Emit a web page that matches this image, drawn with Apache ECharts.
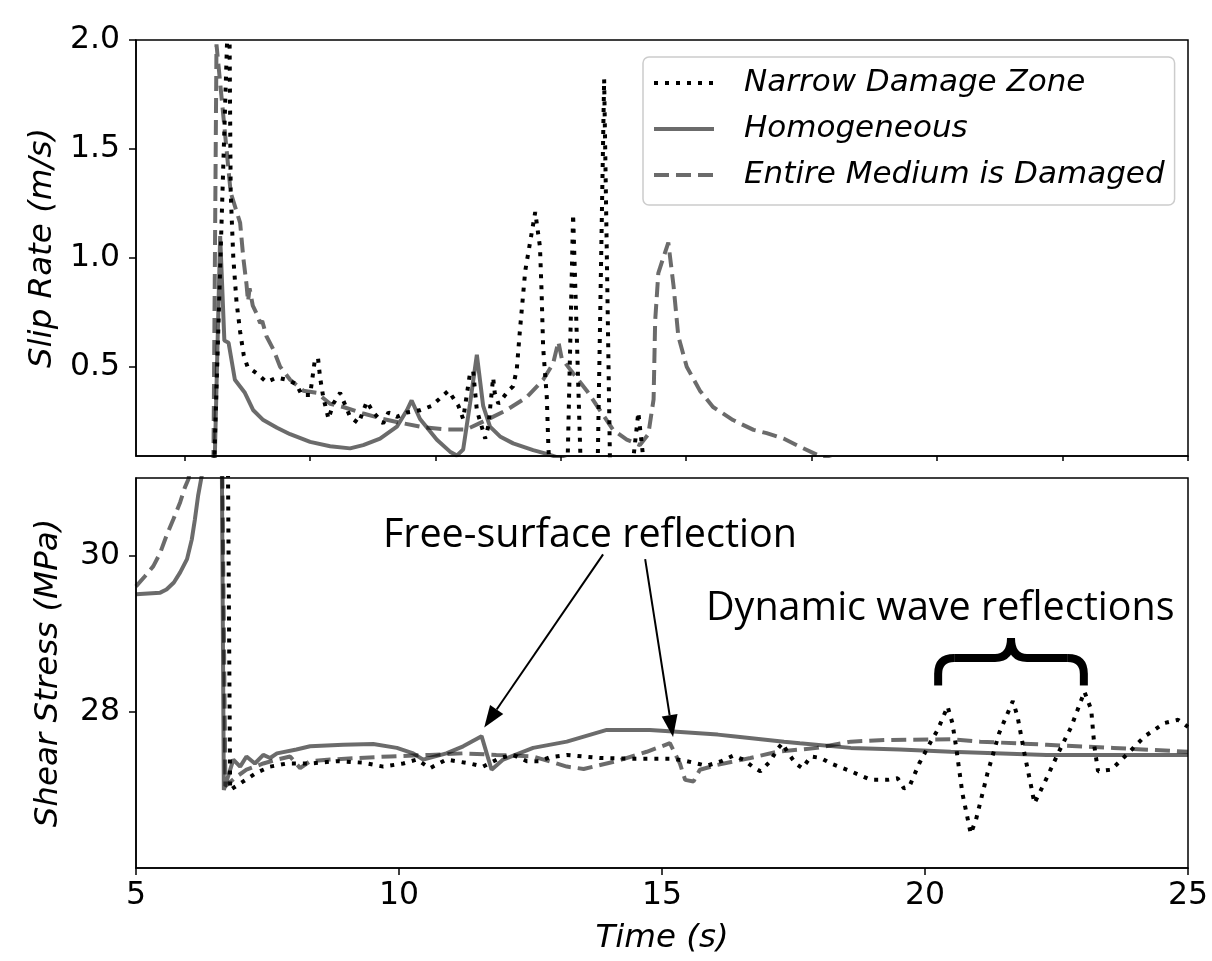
<!DOCTYPE html>
<html>
<head>
<meta charset="utf-8">
<script src="https://cdn.jsdelivr.net/npm/echarts@6/dist/echarts.min.js"></script>
<style>
  html, body { margin: 0; padding: 0; background: #ffffff; }
  #chart { width: 1212px; height: 961px; }
</style>
</head>
<body>
<div id="chart"></div>
<script>
// ---- Slip rate (m/s) versus time (s) ----
const slipNarrow = [
  [5.0,0],[6.48,0],[6.77,2.3],[6.80,1.30],[6.85,1.0],[6.91,0.80],[6.98,0.66],[7.05,0.55],[7.12,0.50],
  [7.29,0.47],[7.48,0.43],[7.68,0.45],[7.87,0.44],[8.05,0.42],[8.15,0.37],[8.31,0.37],[8.40,0.53],
  [8.46,0.54],[8.50,0.45],[8.56,0.36],[8.66,0.26],[8.75,0.33],[8.88,0.38],[9.07,0.27],[9.23,0.24],
  [9.39,0.34],[9.51,0.29],[9.70,0.24],[9.80,0.29],[9.96,0.27],[10.15,0.29],[10.40,0.30],[10.62,0.32],
  [10.94,0.39],[11.13,0.32],[11.22,0.26],[11.35,0.47],[11.41,0.48],[11.48,0.30],[11.64,0.17],
  [11.70,0.23],[11.79,0.45],[11.82,0.38],[11.89,0.33],[12.08,0.39],[12.17,0.41],[12.24,0.49],
  [12.30,0.67],[12.40,0.94],[12.59,1.21],[12.68,1.05],[12.71,0.85],[12.74,0.59],[12.81,0.36],
  [12.84,0.13],[12.87,0.0],[13.20,0.0],[13.31,1.20],[13.46,0.0],[13.774,0.0],[13.90,1.82],
  [14.015,0.0],[14.42,0.0],[14.55,0.29],[14.68,0.0],[25.0,0]
];
const slipHomog = [
  [5.0,0],[6.49,0],[6.60,1.10],[6.68,0.62],[6.76,0.61],[6.88,0.44],[7.07,0.38],[7.23,0.30],
  [7.42,0.255],[7.68,0.22],[7.93,0.19],[8.31,0.155],[8.69,0.135],[9.07,0.125],[9.32,0.14],
  [9.64,0.17],[9.96,0.225],[10.15,0.30],[10.24,0.345],[10.40,0.26],[10.72,0.165],[10.97,0.11],
  [11.10,0.092],[11.22,0.12],[11.35,0.33],[11.48,0.555],[11.60,0.32],[11.73,0.225],[11.92,0.18],
  [12.17,0.148],[12.55,0.117],[12.81,0.10],[13.0,0.085],[13.5,0.05],[25.0,0]
];
const slipDamaged = [
  [5.0,0],[6.47,0],[6.53,1.98],[6.80,1.30],[6.98,1.16],[7.04,1.0],[7.10,0.88],[7.13,0.80],
  [7.16,0.86],[7.22,0.78],[7.29,0.745],[7.36,0.70],[7.40,0.71],[7.48,0.64],[7.61,0.58],
  [7.74,0.50],[7.93,0.44],[8.18,0.39],[8.44,0.38],[8.69,0.33],[8.94,0.315],[9.32,0.285],
  [9.70,0.26],[10.08,0.24],[10.46,0.222],[10.90,0.212],[11.28,0.212],[11.66,0.255],[12.04,0.30],
  [12.43,0.36],[12.74,0.44],[12.93,0.515],[13.03,0.615],[13.10,0.53],[13.15,0.52],[13.31,0.47],
  [13.57,0.39],[13.82,0.30],[14.07,0.21],[14.33,0.165],[14.58,0.14],[14.74,0.19],[14.84,0.35],
  [14.87,0.71],[14.93,0.93],[15.12,1.07],[15.22,0.87],[15.31,0.64],[15.47,0.50],[15.72,0.39],
  [15.97,0.315],[16.35,0.255],[16.74,0.21],[16.99,0.195],[17.31,0.17],[17.62,0.133],[18.0,0.09],
  [18.5,0.05],[25.0,0]
];

// ---- Shear stress (MPa) versus time (s) ----
const stressNarrow = [
  [5.0,32],[6.74,32],[6.79,27.0],[6.82,26.98],[7.04,27.11],[7.29,27.22],[7.55,27.30],[7.87,27.34],
  [8.31,27.34],[8.82,27.37],[9.32,27.35],[9.70,27.30],[10.08,27.34],[10.34,27.39],[10.59,27.28],
  [10.90,27.39],[11.35,27.34],[11.60,27.30],[11.92,27.41],[12.17,27.45],[12.43,27.37],[12.68,27.37],
  [12.87,27.42],[13.19,27.45],[13.82,27.41],[14.46,27.40],[15.21,27.40],[15.47,27.37],[15.85,27.31],
  [16.13,27.37],[16.35,27.44],[16.55,27.39],[16.74,27.29],[16.87,27.24],[17.06,27.37],[17.19,27.52],
  [17.29,27.60],[17.38,27.49],[17.54,27.34],[17.67,27.28],[17.83,27.43],[18.02,27.41],[18.21,27.34],
  [18.59,27.24],[18.97,27.13],[19.29,27.13],[19.48,27.15],[19.60,27.02],[19.70,27.04],[19.89,27.34],
  [20.11,27.62],[20.24,27.77],[20.43,28.07],[20.52,27.86],[20.59,27.56],[20.71,26.96],[20.87,26.44],
  [20.97,26.62],[21.19,27.22],[21.41,27.73],[21.67,28.14],[21.76,27.94],[21.89,27.47],[22.02,27.04],
  [22.08,26.83],[22.27,27.09],[22.53,27.47],[22.78,27.81],[23.03,28.26],[23.16,28.03],[23.22,27.56],
  [23.29,27.24],[23.54,27.26],[23.83,27.45],[24.18,27.69],[24.56,27.86],[24.81,27.90],[25.0,27.81]
];
const stressHomog = [
  [5.0,29.51],[5.46,29.53],[5.58,29.57],[5.72,29.66],[5.84,29.79],[5.97,29.96],[6.06,30.21],
  [6.12,30.47],[6.18,30.77],[6.25,31.03],[6.35,32.5],
  [6.62,32.5],[6.67,27.0],[6.69,27.0],[6.85,27.39],[6.98,27.30],[7.10,27.43],[7.26,27.34],
  [7.42,27.45],[7.55,27.41],[7.68,27.47],[8.05,27.52],[8.31,27.56],[8.94,27.58],[9.51,27.59],
  [9.96,27.54],[10.27,27.47],[10.46,27.39],[10.90,27.47],[11.22,27.56],[11.57,27.69],[11.76,27.26],
  [11.98,27.39],[12.55,27.54],[13.19,27.62],[13.95,27.77],[14.77,27.77],[15.21,27.75],[16.06,27.71],
  [16.35,27.69],[17.32,27.62],[17.62,27.60],[18.59,27.54],[19.52,27.52],[20.49,27.49],[22.31,27.45],
  [25.0,27.45]
];
const stressDamaged = [
  [5.0,29.61],[5.17,29.74],[5.33,29.87],[5.46,30.04],[5.58,30.26],[5.71,30.47],[5.84,30.69],
  [5.93,30.88],[6.0,30.99],[6.1,31.6],[6.2,32.5],[6.62,32.5],
  [6.70,27.05],[6.91,27.17],[7.10,27.26],[7.42,27.34],[7.68,27.39],[7.93,27.43],[8.12,27.28],
  [8.31,27.37],[8.69,27.39],[9.20,27.41],[9.83,27.43],[10.59,27.45],[11.22,27.47],[11.85,27.45],
  [12.55,27.43],[13.19,27.30],[13.51,27.27],[14.14,27.37],[14.71,27.49],[15.15,27.60],[15.34,27.34],
  [15.44,27.13],[15.60,27.11],[15.72,27.26],[16.04,27.32],[16.68,27.41],[17.19,27.49],[17.95,27.54],
  [18.59,27.62],[19.23,27.64],[20.49,27.65],[21.05,27.62],[22.31,27.58],[23.58,27.54],[25.0,27.49]
];

// ---- Axis ticks ----
const timeTicks = [5, 10, 15, 20, 25];
const slipTicks = [0.5, 1.0, 1.5, 2.0];
const stressTicks = [28, 30];
const upperTimeTicks = [5.93, 8.31, 10.69, 13.08, 15.46, 17.84, 20.22, 22.61, 25.0];

const seriesNames = ['Narrow Damage Zone', 'Homogeneous', 'Entire Medium is Damaged'];

// ---- Annotations (data coordinates of the lower panel) ----
const noteFree = { text: 'Free-surface reflection', at: [13.63, 30.26] };
const noteWaves = { text: 'Dynamic wave reflections', at: [20.29, 29.32] };
const arrows = [
  { from: [13.88, 30.02], to: [11.62, 27.80] },
  { from: [14.68, 29.96], to: [15.21, 27.68] }
];
const brace = { left: 20.25, right: 23.02, tip: 28.95, base: 28.34 };

const FONT = 'DejaVu Sans';
const GRAY = 'rgba(0,0,0,0.58)';

const styles = [
  { color: '#000000', width: 4, type: [4, 7], cap: 'butt' },
  { color: GRAY, width: 4, type: 'solid', cap: 'butt' },
  { color: GRAY, width: 4, type: [15, 7], cap: 'butt' }
];

function makeSeries(idx, data, axis) {
  return {
    name: seriesNames[idx],
    type: 'line',
    xAxisIndex: axis,
    yAxisIndex: axis,
    data: data,
    symbol: 'none',
    showSymbol: false,
    clip: true,
    lineStyle: styles[idx],
    itemStyle: { color: styles[idx].color },
    emphasis: { disabled: true },
    z: 2 + idx
  };
}

const axisLineStyle = { color: '#000', width: 1.5 };
const tickLabel = { fontFamily: FONT, fontSize: 31.5, color: '#000' };
const axisName = { fontFamily: FONT, fontSize: 32.5, fontStyle: 'italic', color: '#000' };

const option = {
  animation: false,
  backgroundColor: '#ffffff',
  grid: [
    { left: 136, top: 40, width: 1052, height: 416, show: true, borderColor: '#000', borderWidth: 1.5 },
    { left: 136, top: 478, width: 1052, height: 390, show: true, borderColor: '#000', borderWidth: 1.5 }
  ],
  xAxis: [
    {
      gridIndex: 0, type: 'value', min: 5, max: 25,
      axisLine: { show: true, lineStyle: axisLineStyle },
      axisTick: { show: true, length: 5, customValues: upperTimeTicks, lineStyle: axisLineStyle },
      axisLabel: { show: false },
      splitLine: { show: false }
    },
    {
      gridIndex: 1, type: 'value', min: 5, max: 25,
      axisLine: { show: true, lineStyle: axisLineStyle },
      axisTick: { show: true, length: 7, customValues: timeTicks, lineStyle: axisLineStyle },
      axisLabel: Object.assign({ customValues: timeTicks, margin: 12 }, tickLabel),
      splitLine: { show: false },
      name: 'Time (s)', nameLocation: 'middle', nameGap: 54, nameTextStyle: axisName
    }
  ],
  yAxis: [
    {
      gridIndex: 0, type: 'value', min: 0.09, max: 2.0,
      axisLine: { show: true, lineStyle: axisLineStyle },
      axisTick: { show: true, length: 7, customValues: slipTicks, lineStyle: axisLineStyle },
      axisLabel: Object.assign({ customValues: slipTicks, margin: 16, formatter: v => v.toFixed(1) }, tickLabel),
      splitLine: { show: false },
      name: 'Slip Rate (m/s)', nameLocation: 'middle', nameGap: 71, nameRotate: 90, nameTextStyle: axisName
    },
    {
      gridIndex: 1, type: 'value', min: 26, max: 31,
      axisLine: { show: true, lineStyle: axisLineStyle },
      axisTick: { show: true, length: 7, customValues: stressTicks, lineStyle: axisLineStyle },
      axisLabel: Object.assign({ customValues: stressTicks, margin: 16 }, tickLabel),
      splitLine: { show: false },
      name: 'Shear Stress (MPa)', nameLocation: 'middle', nameGap: 71, nameRotate: 90, nameTextStyle: axisName
    }
  ],
  legend: {
    data: seriesNames,
    orient: 'vertical',
    left: 643, top: 57,
    itemWidth: 60, itemHeight: 14, itemGap: 10,
    padding: [8, 10, 12, 9],
    selectedMode: false,
    backgroundColor: 'rgba(255,255,255,0.85)',
    borderColor: '#cccccc', borderWidth: 1.5, borderRadius: 6,
    itemStyle: { opacity: 0 },
    lineStyle: { width: 4 },
    textStyle: { fontFamily: FONT, fontStyle: 'italic', fontSize: 31, color: '#000', lineHeight: 36, padding: [0, 0, 0, 25] }
  },
  series: [
    makeSeries(0, slipNarrow, 0),
    makeSeries(1, slipHomog, 0),
    makeSeries(2, slipDamaged, 0),
    makeSeries(0, stressNarrow, 1),
    makeSeries(1, stressHomog, 1),
    makeSeries(2, stressDamaged, 1)
  ]
};

const chart = echarts.init(document.getElementById('chart'), null, { renderer: 'canvas' });
chart.setOption(option);

// Annotation layer: texts, arrows and the brace, placed through the lower panel's axes.
function px(pt) { return chart.convertToPixel({ xAxisIndex: 1, yAxisIndex: 1 }, pt); }

const annoFont = { fontFamily: 'Open Sans', fontSize: 39.5, fill: '#000' };
const graphics = [];
[noteFree, noteWaves].forEach(n => {
  const p = px(n.at);
  graphics.push({
    type: 'text', x: p[0], y: p[1], z: 20,
    style: Object.assign({ text: n.text, align: 'center', verticalAlign: 'middle' }, annoFont)
  });
});

arrows.forEach(a => {
  const s = px(a.from), e = px(a.to);
  const dx = e[0] - s[0], dy = e[1] - s[1];
  const len = Math.sqrt(dx * dx + dy * dy);
  const ux = dx / len, uy = dy / len;
  const headLen = 22, headHalf = 8;
  const bx = e[0] - ux * headLen, by = e[1] - uy * headLen;
  graphics.push({
    type: 'line', z: 20,
    shape: { x1: s[0], y1: s[1], x2: bx, y2: by },
    style: { stroke: '#000', lineWidth: 2 }
  });
  graphics.push({
    type: 'polygon', z: 20,
    shape: { points: [[e[0], e[1]], [bx - uy * headHalf, by + ux * headHalf], [bx + uy * headHalf, by - ux * headHalf]] },
    style: { fill: '#000' }
  });
});

// Curly brace over the reflection oscillations, built from lines and quadratic curves.
(function () {
  const l = px([brace.left, brace.base]);
  const r = px([brace.right, brace.base]);
  const t = px([(brace.left + brace.right) / 2, brace.tip]);
  const xl = l[0], xr = r[0], xc = t[0], yb = l[1], yt = t[1];
  const ym = yt + (yb - yt) * 0.42;
  const rad = 16;
  const stroke = { stroke: '#000', lineWidth: 8, fill: null, lineCap: 'butt' };
  const parts = [
    { type: 'line', shape: { x1: xl, y1: yb, x2: xl, y2: ym + rad } },
    { type: 'bezierCurve', shape: { x1: xl, y1: ym + rad, cpx1: xl, cpy1: ym, x2: xl + rad, y2: ym } },
    { type: 'line', shape: { x1: xl + rad, y1: ym, x2: xc - rad, y2: ym } },
    { type: 'bezierCurve', shape: { x1: xc - rad, y1: ym, cpx1: xc, cpy1: ym, x2: xc, y2: yt } },
    { type: 'bezierCurve', shape: { x1: xc, y1: yt, cpx1: xc, cpy1: ym, x2: xc + rad, y2: ym } },
    { type: 'line', shape: { x1: xc + rad, y1: ym, x2: xr - rad, y2: ym } },
    { type: 'bezierCurve', shape: { x1: xr - rad, y1: ym, cpx1: xr, cpy1: ym, x2: xr, y2: ym + rad } },
    { type: 'line', shape: { x1: xr, y1: ym + rad, x2: xr, y2: yb } }
  ];
  parts.forEach(p => {
    p.z = 20;
    p.style = Object.assign({}, stroke);
    graphics.push(p);
  });
})();

chart.setOption({ graphic: graphics });
</script>
</body>
</html>
